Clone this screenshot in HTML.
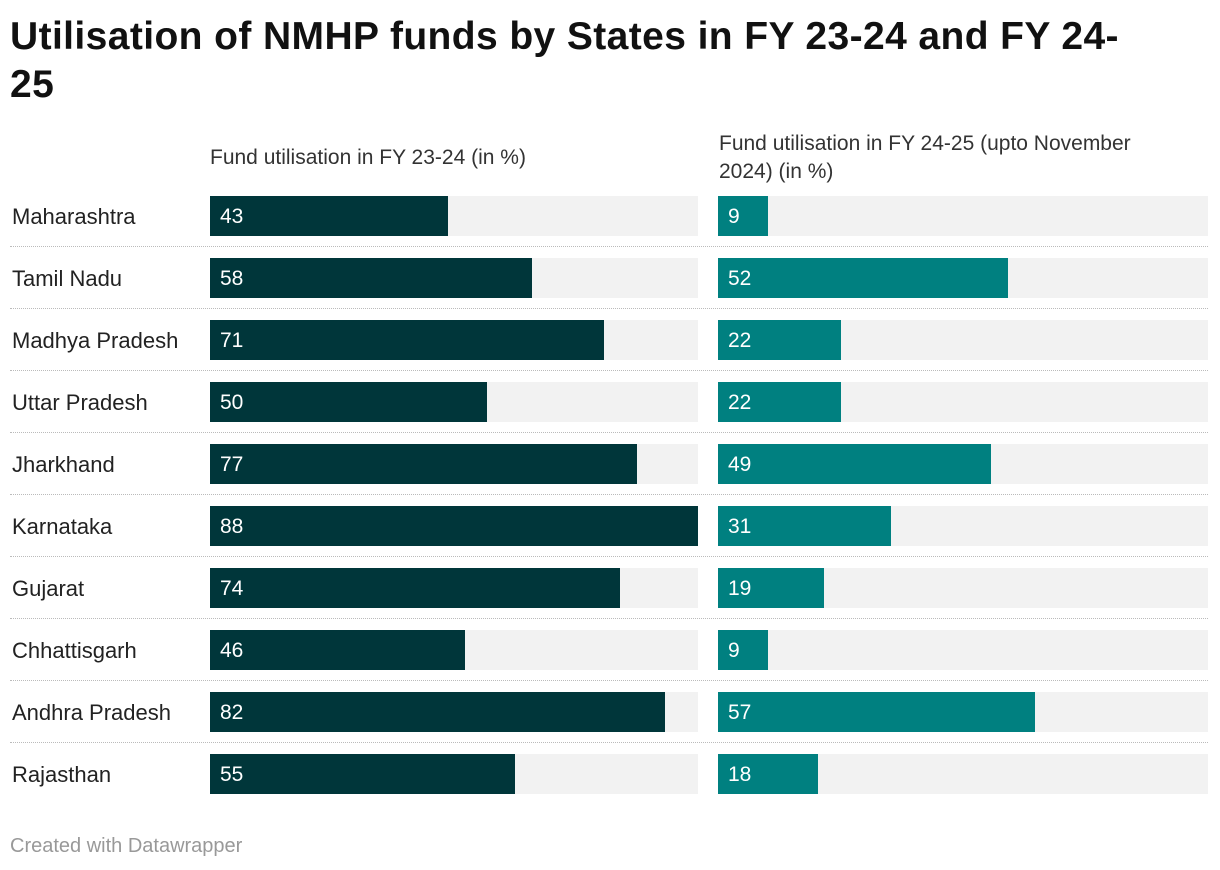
<!DOCTYPE html>
<html><head><meta charset="utf-8"><style>
body{margin:0;background:#fff;font-family:"Liberation Sans",Arial,sans-serif;width:1220px;height:870px;position:relative;overflow:hidden;color:#222}
.t{position:absolute;white-space:nowrap}
</style></head><body>
<div class="t" style="left:10px;top:13px;font-size:39px;letter-spacing:0.4px;font-weight:bold;line-height:48px;color:#111">Utilisation of NMHP funds by States in FY 23-24 and FY 24-<br>25</div>
<div class="t" style="left:210px;top:146px;font-size:21px;color:#333">Fund utilisation in FY 23-24 (in %)</div>
<div class="t" style="left:719px;top:130px;font-size:21px;line-height:28px;color:#333">Fund utilisation in FY 24-25 (upto November<br>2024) (in %)</div>
<div id="rows"></div>
<div class="t" style="left:10px;top:835px;font-size:20px;color:#999">Created with Datawrapper</div>
<script>
const states=["Maharashtra","Tamil Nadu","Madhya Pradesh","Uttar Pradesh","Jharkhand","Karnataka","Gujarat","Chhattisgarh","Andhra Pradesh","Rajasthan"];
const fy2324=[43,58,71,50,77,88,74,46,82,55];
const fy2425=[9,52,22,22,49,31,19,9,57,18];
const maxVal=88;
const root=document.getElementById('rows');
function xL(v){return v/maxVal*488;}
function xR(v){return v/maxVal*490;}
function mk(css,name,inter){const d=document.createElement('div');d.style.cssText='position:absolute;'+css;


root.appendChild(d);return d;}
states.forEach((s,i)=>{
  const y=196+i*62;
  const lab=mk(`left:12px;top:${y+1}px;height:40px;line-height:40px;font-size:22px;color:#222;white-space:nowrap`,'state-label','false');lab.textContent=s;
  mk(`left:210px;top:${y}px;width:488px;height:40px;background:#f2f2f2`,'bar-bg-fy23-24','false');
  const b1=mk(`left:210px;top:${y}px;width:${xL(fy2324[i])}px;height:40px;background:#00363a;color:#fff;font-size:21px;line-height:42px;padding-left:10px;box-sizing:border-box`,'bar-fy23-24','true');b1.textContent=fy2324[i];
  mk(`left:718px;top:${y}px;width:490px;height:40px;background:#f2f2f2`,'bar-bg-fy24-25','false');
  const b2=mk(`left:718px;top:${y}px;width:${xR(fy2425[i])}px;height:40px;background:#008080;color:#fff;font-size:21px;line-height:42px;padding-left:10px;box-sizing:border-box;white-space:nowrap;overflow:visible`,'bar-fy24-25','true');b2.textContent=fy2425[i];
  if(i<states.length-1) mk(`left:10px;top:${y+50}px;width:1198px;height:0;border-top:1px dotted #bbb`,'row-separator','false');
});
</script>
</body></html>
